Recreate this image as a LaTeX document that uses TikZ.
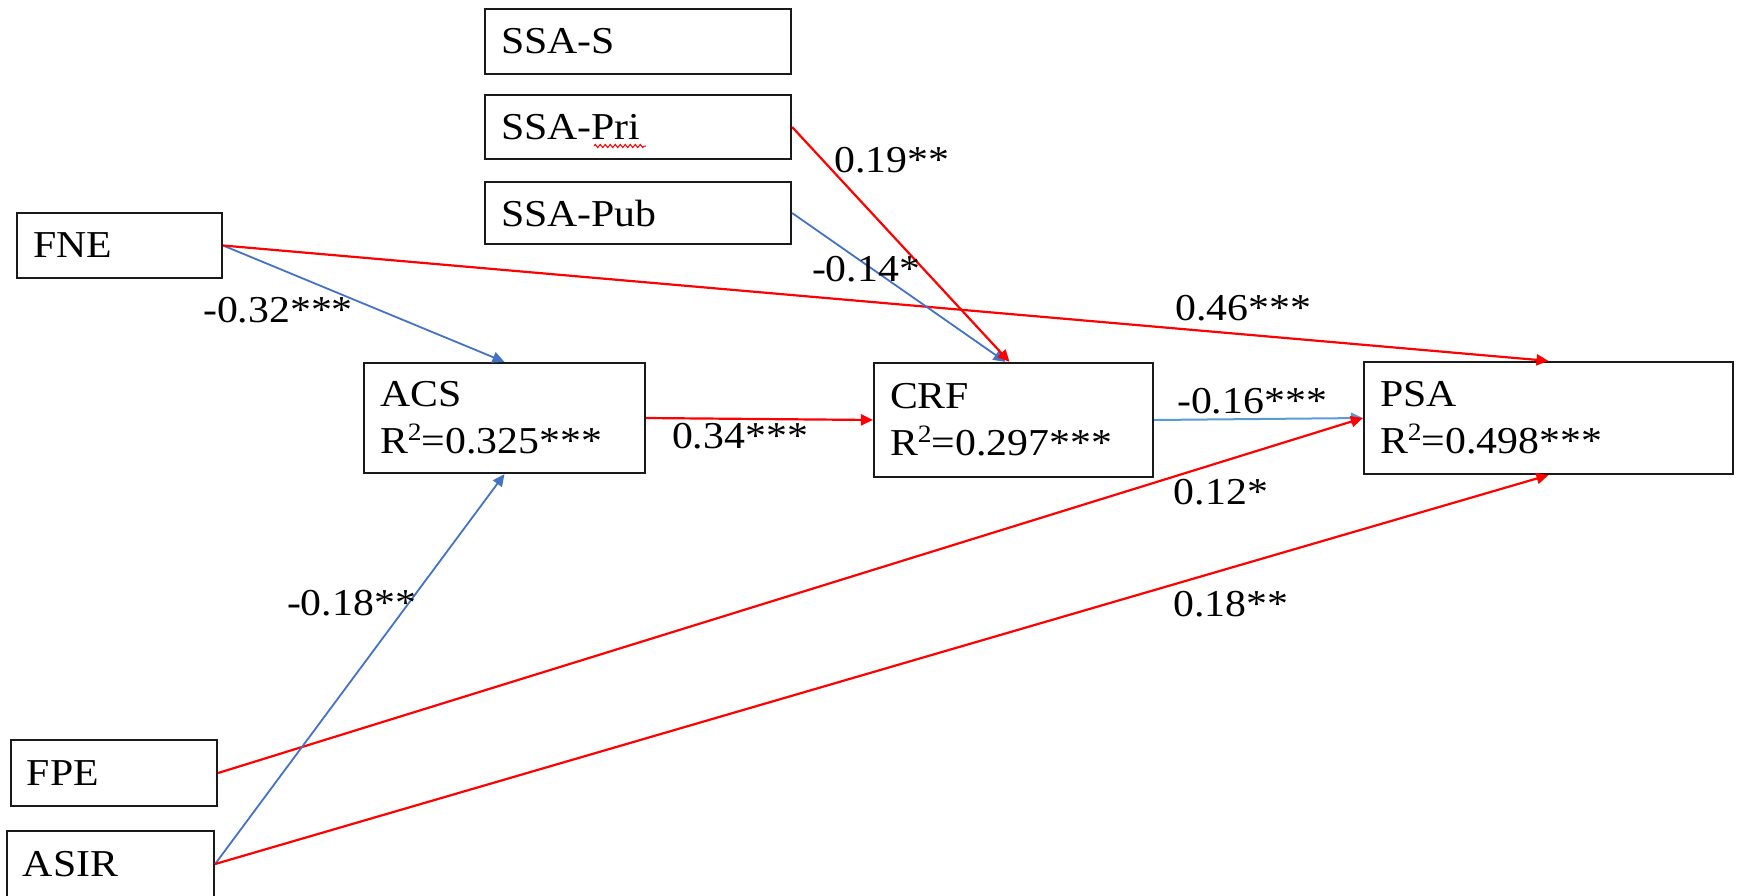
\documentclass[tikz,border=0pt]{standalone}
\usepackage{fontspec}
\setmainfont[FakeStretch=1.1]{Liberation Serif}
\usetikzlibrary{arrows.meta,decorations.pathmorphing}
\definecolor{nblue}{HTML}{4472C4}
\definecolor{lblue}{HTML}{5B9BD5}
\definecolor{frame}{HTML}{1A1A1A}
% squared symbol in the R-squared lines
\newcommand{\sqmark}{\raisebox{0.36em}{\fontsize{25}{25}\selectfont 2}}

\begin{document}
\begin{tikzpicture}[x=1pt,y=-1pt,
  box/.style={draw=frame, line width=2.2pt, inner xsep=16pt, inner ysep=0pt,
    align=left, font=\fontsize{38}{47}\selectfont},
  coef/.style={inner sep=0pt, font=\fontsize{38}{47}\selectfont},
  tiparrow/.style={-{Triangle[length=12pt,width=11pt]}},
  posarrow/.style={tiparrow, draw=red, line width=2.2pt},
  negarrow/.style={tiparrow, draw=nblue, line width=1.8pt},
  neglight/.style={tiparrow, draw=lblue, line width=2pt},
]
\useasboundingbox (0,0) rectangle (1737,895);

% variables
\node[box, minimum width=306pt, text width=274pt, minimum height=65pt] (ssas) at (638,41.5) {SSA-S};
\node[box, minimum width=306pt, text width=274pt, minimum height=64pt] (ssapri) at (638,127) {SSA-Pri};
\node[box, minimum width=306pt, text width=274pt, minimum height=62pt] (ssapub) at (638,213) {SSA-Pub};
\node[box, minimum width=205pt, text width=173pt, minimum height=65pt] (fne) at (119.5,245.5) {FNE};
\node[box, minimum width=281pt, text width=249pt, minimum height=110pt] (acs) at (504.5,418) {ACS\\R\sqmark=0.325***};
\node[box, minimum width=279pt, text width=247pt, minimum height=114pt] (crf) at (1013.5,420) {CRF\\R\sqmark=0.297***};
\node[box, minimum width=369pt, text width=337pt, minimum height=112pt] (psa) at (1548.5,418) {PSA\\R\sqmark=0.498***};
\node[box, minimum width=206pt, text width=174pt, minimum height=66pt] (fpe) at (114,773) {FPE};
\node[box, minimum width=207pt, text width=175pt, minimum height=66pt] (asir) at (110.5,864) {ASIR};

% spell-check mark under "Pri"
\draw[red, line width=1pt, decorate, decoration={zigzag, amplitude=1.6pt, segment length=5pt}]
  (594,146) -- (646,146);

% paths
\draw[negarrow] (fne.east) -- (acs.north);
\draw[posarrow] (fne.east) -- (psa.north);
\draw[posarrow] (acs.east) -- (crf.west);
\draw[negarrow] (ssapub.east) -- ([xshift=-8pt]crf.north);
\draw[posarrow] (ssapri.east) -- ([xshift=-4pt]crf.north);
\draw[neglight] (crf.east) -- (psa.west);
\draw[posarrow] (fpe.east) -- (psa.west);
\draw[negarrow] (asir.east) -- (acs.south);
\draw[posarrow] (asir.east) -- (psa.south);

% coefficients
\node[coef] (c1) at (892,160) {0.19**};
\node[coef] (c2) at (866,269) {-0.14*};
\node[coef] (c3) at (278,310) {-0.32***};
\node[coef] (c4) at (1243.5,308) {0.46***};
\node[coef] (c5) at (740,436) {0.34***};
\node[coef] (c6) at (1252,401) {-0.16***};
\node[coef] (c7) at (1221,492) {0.12*};
\node[coef] (c8) at (1231,604) {0.18**};
\node[coef] (c9) at (351.5,603) {-0.18**};
\end{tikzpicture}
\end{document}
